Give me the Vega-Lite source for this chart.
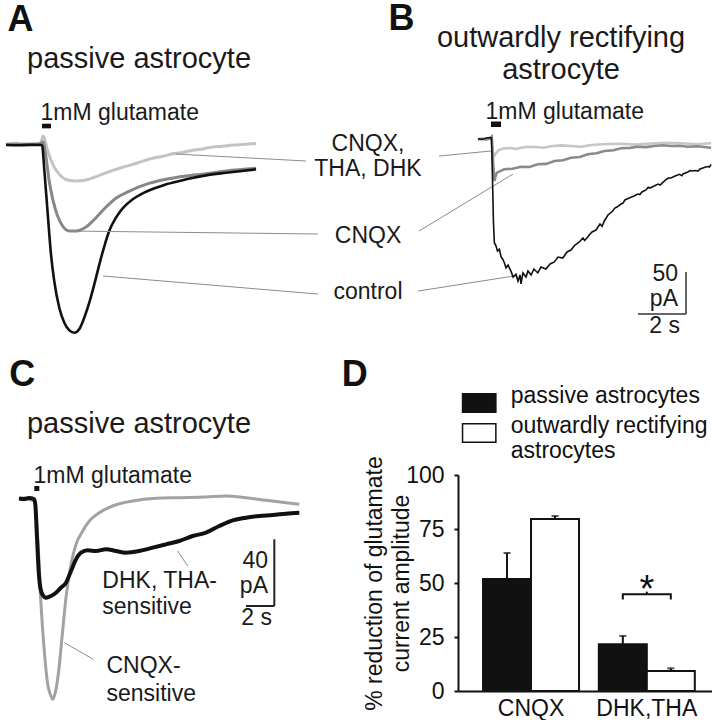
{
"$schema": "https://vega.github.io/schema/vega-lite/v6.json",
"background": "#ffffff",
"padding": 0,
"spacing": 0,
"bounds": "flush",
"resolve": {"scale": {"fill": "independent"}, "legend": {"fill": "independent"}},
"config": {"view": {"stroke": null}, "font": "Liberation Sans", "axis": {"labelFont": "Liberation Sans", "titleFont": "Liberation Sans"}, "legend": {"labelFont": "Liberation Sans"}},
"datasets": {
"trA": [
{"k":"light","t":-1.5,"p":0},{"k":"light","t":-1.17,"p":0.6},{"k":"light","t":-0.83,"p":-0.4},{"k":"light","t":-0.5,"p":0.4},{"k":"light","t":-0.17,"p":0.2},{"k":"light","t":-0.04,"p":2.4},{"k":"light","t":0.05,"p":9.5},{"k":"light","t":0.24,"p":-8.3},{"k":"light","t":0.45,"p":-24.2},{"k":"light","t":0.72,"p":-36.1},{"k":"light","t":1.07,"p":-42.9},{"k":"light","t":1.42,"p":-44.0},{"k":"light","t":1.83,"p":-42.9},{"k":"light","t":2.39,"p":-37.3},{"k":"light","t":2.95,"p":-31.3},{"k":"light","t":3.36,"p":-27.6},{"k":"light","t":3.78,"p":-24.2},{"k":"light","t":4.2,"p":-20.3},{"k":"light","t":4.61,"p":-17.0},{"k":"light","t":5.03,"p":-14.6},{"k":"light","t":5.45,"p":-11.5},{"k":"light","t":5.87,"p":-9.9},{"k":"light","t":6.28,"p":-7.5},{"k":"light","t":6.7,"p":-5.8},{"k":"light","t":7.11,"p":-3.6},{"k":"light","t":7.53,"p":-2.6},{"k":"light","t":7.95,"p":-1.2},{"k":"light","t":8.4,"p":-0.4},{"k":"light","t":8.92,"p":0.8},
{"k":"mid","t":-1.5,"p":-0.6},{"k":"mid","t":-1.0,"p":0},{"k":"mid","t":-0.5,"p":-0.6},{"k":"mid","t":-0.08,"p":0},{"k":"mid","t":0.04,"p":2.4},{"k":"mid","t":0.17,"p":-16.3},{"k":"mid","t":0.30,"p":-44.0},{"k":"mid","t":0.45,"p":-65.8},{"k":"mid","t":0.65,"p":-85.7},{"k":"mid","t":0.86,"p":-97.6},{"k":"mid","t":1.14,"p":-103.6},{"k":"mid","t":1.42,"p":-103.6},{"k":"mid","t":1.83,"p":-98.8},{"k":"mid","t":2.25,"p":-87.7},{"k":"mid","t":2.67,"p":-75.0},{"k":"mid","t":3.08,"p":-64.6},{"k":"mid","t":3.64,"p":-56.0},{"k":"mid","t":4.33,"p":-48.0},{"k":"mid","t":5.17,"p":-42.0},{"k":"mid","t":6.0,"p":-38.1},{"k":"mid","t":6.83,"p":-35.4},{"k":"mid","t":7.67,"p":-32.1},{"k":"mid","t":8.92,"p":-28.9},
{"k":"control","t":-1.5,"p":-1.2},{"k":"control","t":-1.0,"p":-1.5},{"k":"control","t":-0.5,"p":-1.0},{"k":"control","t":0.0,"p":-1.2},{"k":"control","t":0.10,"p":-32.1},{"k":"control","t":0.24,"p":-83.7},{"k":"control","t":0.375,"p":-131.3},{"k":"control","t":0.51,"p":-163.1},{"k":"control","t":0.72,"p":-194.9},{"k":"control","t":0.93,"p":-212.7},{"k":"control","t":1.14,"p":-221.8},{"k":"control","t":1.35,"p":-224.6},{"k":"control","t":1.55,"p":-220.6},{"k":"control","t":1.76,"p":-206.8},{"k":"control","t":1.97,"p":-188.9},{"k":"control","t":2.18,"p":-167.0},{"k":"control","t":2.39,"p":-143.2},{"k":"control","t":2.60,"p":-121.4},{"k":"control","t":2.80,"p":-103.6},{"k":"control","t":3.08,"p":-87.7},{"k":"control","t":3.36,"p":-76.5},{"k":"control","t":3.78,"p":-65.8},{"k":"control","t":4.33,"p":-56.8},{"k":"control","t":5.17,"p":-48.0},{"k":"control","t":6.0,"p":-42.0},{"k":"control","t":6.83,"p":-37.3},{"k":"control","t":7.67,"p":-34.2},{"k":"control","t":8.92,"p":-30.1}
],
"segA": [
{"t":5.583,"p":-11.9,"t2":11.0,"p2":-20.2},
{"t":16.542,"p":-14.3,"t2":18.708,"p2":-8.3},
{"t":1.292,"p":-103.6,"t2":11.5,"p2":-107.1},
{"t":15.708,"p":-103.6,"t2":19.625,"p2":-35.7},
{"t":2.542,"p":-157.1,"t2":11.5,"p2":-178.6},
{"t":15.667,"p":-175.0,"t2":19.667,"p2":-157.1}
],
"gluA": [{"t":0,"p":18.7,"t2":0.375,"p2":24.2}],
"txtA": [
{"txt":"A","kind":"letter","t":-1.4375,"p":135.1},
{"txt":"passive astrocyte","kind":"title","t":-0.625,"p":90.5},
{"txt":"1mM glutamate","kind":"left","t":-0.0625,"p":28.6},
{"txt":"CNQX,","kind":"center","t":13.583,"p":-8.3},
{"txt":"THA, DHK","kind":"center","t":13.583,"p":-38.1},
{"txt":"CNQX","kind":"center","t":13.583,"p":-117.9},
{"txt":"control","kind":"center","t":13.583,"p":-184.5}
],
"trB": [
{"k":"light","t":-0.54,"p":1.8},{"k":"light","t":-0.375,"p":2.6},{"k":"light","t":-0.21,"p":1.8},{"k":"light","t":-0.04,"p":3.0},{"k":"light","t":0.03,"p":5.1},{"k":"light","t":0.06,"p":-11.9},{"k":"light","t":0.125,"p":-17.9},{"k":"light","t":0.21,"p":-14.3},{"k":"light","t":0.33,"p":-10.7},{"k":"light","t":0.5,"p":-8.9},{"k":"light","t":0.83,"p":-8.3},{"k":"light","t":1.04,"p":-9.5},{"k":"light","t":1.25,"p":-8.0},{"k":"light","t":1.56,"p":-6.8},{"k":"light","t":1.875,"p":-7.1},{"k":"light","t":2.19,"p":-8.0},{"k":"light","t":2.5,"p":-6.3},{"k":"light","t":2.9,"p":-5.2},{"k":"light","t":3.33,"p":-6.0},{"k":"light","t":3.75,"p":-6.9},{"k":"light","t":4.17,"p":-4.8},{"k":"light","t":4.8,"p":-3.6},{"k":"light","t":5.42,"p":-3.2},{"k":"light","t":6.05,"p":-4.3},{"k":"light","t":6.67,"p":-3.0},{"k":"light","t":7.3,"p":-2.0},{"k":"light","t":7.92,"p":-2.7},{"k":"light","t":8.55,"p":-3.8},{"k":"light","t":9.17,"p":-2.7},
{"k":"mid","t":-0.54,"p":1.8},{"k":"mid","t":-0.375,"p":2.6},{"k":"mid","t":-0.21,"p":1.8},{"k":"mid","t":-0.04,"p":3.0},{"k":"mid","t":0.03,"p":5.1},{"k":"mid","t":0.083,"p":-23.8},{"k":"mid","t":0.146,"p":-47.6},{"k":"mid","t":0.19,"p":-41.7},{"k":"mid","t":0.25,"p":-37.7},{"k":"mid","t":0.55,"p":-33.7},{"k":"mid","t":0.9,"p":-33.0},{"k":"mid","t":1.25,"p":-30.6},{"k":"mid","t":1.6,"p":-30.9},{"k":"mid","t":1.95,"p":-27.7},{"k":"mid","t":2.3,"p":-27.2},{"k":"mid","t":2.64,"p":-23.8},{"k":"mid","t":3.0,"p":-22.9},{"k":"mid","t":3.33,"p":-19.9},{"k":"mid","t":3.7,"p":-19.0},{"k":"mid","t":4.03,"p":-15.8},{"k":"mid","t":4.4,"p":-14.6},{"k":"mid","t":4.72,"p":-11.9},{"k":"mid","t":5.1,"p":-10.9},{"k":"mid","t":5.42,"p":-8.7},{"k":"mid","t":5.8,"p":-8.2},{"k":"mid","t":6.11,"p":-6.8},{"k":"mid","t":6.45,"p":-7.3},{"k":"mid","t":6.8,"p":-6.0},{"k":"mid","t":7.15,"p":-5.0},{"k":"mid","t":7.5,"p":-6.0},{"k":"mid","t":7.85,"p":-5.6},{"k":"mid","t":8.2,"p":-6.8},{"k":"mid","t":8.6,"p":-6.3},{"k":"mid","t":9.17,"p":-8.0},
{"k":"control","t":-0.54,"p":3.0},{"k":"control","t":-0.375,"p":1.8},{"k":"control","t":-0.21,"p":3.6},{"k":"control","t":-0.04,"p":4.2},{"k":"control","t":0.02,"p":3.6},{"k":"control","t":0.06,"p":-41.7},{"k":"control","t":0.10,"p":-95.2},{"k":"control","t":0.14,"p":-121.1},{"k":"control","t":0.21,"p":-125},{"k":"control","t":0.27,"p":-131},{"k":"control","t":0.35,"p":-128.9},{"k":"control","t":0.42,"p":-138.1},{"k":"control","t":0.49,"p":-140.8},{"k":"control","t":0.56,"p":-145.2},{"k":"control","t":0.625,"p":-150.8},{"k":"control","t":0.71,"p":-147.6},{"k":"control","t":0.83,"p":-154.8},{"k":"control","t":0.92,"p":-161.9},{"k":"control","t":1.04,"p":-158.7},{"k":"control","t":1.125,"p":-166.7},{"k":"control","t":1.21,"p":-159.5},{"k":"control","t":1.25,"p":-170.2},{"k":"control","t":1.33,"p":-157.1},{"k":"control","t":1.46,"p":-161.9},{"k":"control","t":1.54,"p":-154.8},{"k":"control","t":1.67,"p":-159.5},{"k":"control","t":1.79,"p":-152.4},{"k":"control","t":1.95,"p":-157.1},{"k":"control","t":2.08,"p":-150},{"k":"control","t":2.29,"p":-152.4},{"k":"control","t":2.46,"p":-146.4},{"k":"control","t":2.64,"p":-144},{"k":"control","t":2.79,"p":-138.1},{"k":"control","t":2.99,"p":-139.3},{"k":"control","t":3.17,"p":-132.1},{"k":"control","t":3.33,"p":-129.8},{"k":"control","t":3.5,"p":-123.8},{"k":"control","t":3.68,"p":-120.2},{"k":"control","t":3.83,"p":-115.5},{"k":"control","t":3.9,"p":-118.5},{"k":"control","t":4.03,"p":-114.3},{"k":"control","t":4.12,"p":-110.9},{"k":"control","t":4.21,"p":-108.3},{"k":"control","t":4.375,"p":-106},{"k":"control","t":4.54,"p":-98.8},{"k":"control","t":4.63,"p":-101.6},{"k":"control","t":4.72,"p":-95.2},{"k":"control","t":4.875,"p":-88.1},{"k":"control","t":5.07,"p":-83.3},{"k":"control","t":5.16,"p":-79.9},{"k":"control","t":5.25,"p":-78.6},{"k":"control","t":5.42,"p":-75},{"k":"control","t":5.5,"p":-73.9},{"k":"control","t":5.58,"p":-70.2},{"k":"control","t":5.76,"p":-67.9},{"k":"control","t":5.96,"p":-65.5},{"k":"control","t":6.11,"p":-63.1},{"k":"control","t":6.2,"p":-63.8},{"k":"control","t":6.29,"p":-60.7},{"k":"control","t":6.46,"p":-58.3},{"k":"control","t":6.55,"p":-55.0},{"k":"control","t":6.625,"p":-56},{"k":"control","t":6.8,"p":-53.6},{"k":"control","t":6.96,"p":-51.2},{"k":"control","t":7.05,"p":-52.4},{"k":"control","t":7.15,"p":-49.6},{"k":"control","t":7.33,"p":-45.2},{"k":"control","t":7.4,"p":-44.0},{"k":"control","t":7.5,"p":-44},{"k":"control","t":7.67,"p":-41.7},{"k":"control","t":7.85,"p":-39.6},{"k":"control","t":7.95,"p":-41.2},{"k":"control","t":8.0,"p":-39.3},{"k":"control","t":8.2,"p":-36.9},{"k":"control","t":8.3,"p":-35.2},{"k":"control","t":8.375,"p":-35.7},{"k":"control","t":8.54,"p":-35.1},{"k":"control","t":8.62,"p":-35.9},{"k":"control","t":8.71,"p":-33.3},{"k":"control","t":8.89,"p":-31.5},{"k":"control","t":8.95,"p":-30.9},{"k":"control","t":9.04,"p":-30.4},{"k":"control","t":9.1,"p":-30.9},{"k":"control","t":9.17,"p":-28}
],
"gluB": [{"t":0,"p":16.7,"t2":0.417,"p2":23.2}],
"sbB": [{"t":8.125,"p":-155.95,"t2":8.125,"p2":-205.95},{"t":6.125,"p":-205.95,"t2":8.125,"p2":-205.95}],
"txtB": [
{"txt":"B","kind":"letter","t":-4.27,"p":132.7},
{"txt":"outwardly rectifying","kind":"title","t":2.917,"p":111.9},
{"txt":"astrocyte","kind":"title","t":2.917,"p":73.8},
{"txt":"1mM glutamate","kind":"left","t":-0.229,"p":26.2},
{"txt":"50","kind":"right","t":7.792,"p":-166.7},
{"txt":"pA","kind":"right","t":7.792,"p":-196.4},
{"txt":"2 s","kind":"right","t":7.875,"p":-228.6}
],
"trC": [
{"k":"gray","t":-1.082,"p":0},{"k":"gray","t":-0.729,"p":0.4},{"k":"gray","t":-0.376,"p":-0.3},{"k":"gray","t":-0.002,"p":-1.2},{"k":"gray","t":0.238,"p":-23.2},{"k":"gray","t":0.471,"p":-63.2},{"k":"gray","t":0.704,"p":-91.2},{"k":"gray","t":0.944,"p":-111.2},{"k":"gray","t":1.176,"p":-118.2},{"k":"gray","t":1.296,"p":-120.2},{"k":"gray","t":1.48,"p":-116.2},{"k":"gray","t":1.72,"p":-103.2},{"k":"gray","t":1.953,"p":-83.2},{"k":"gray","t":2.235,"p":-59.2},{"k":"gray","t":2.588,"p":-39.2},{"k":"gray","t":2.941,"p":-27.2},{"k":"gray","t":3.414,"p":-19.2},{"k":"gray","t":3.88,"p":-13.2},{"k":"gray","t":4.586,"p":-8.2},{"k":"gray","t":5.532,"p":-4.2},{"k":"gray","t":6.944,"p":-1.2},{"k":"gray","t":8.588,"p":0.4},{"k":"gray","t":10.233,"p":0.8},{"k":"gray","t":12.118,"p":1.2},{"k":"gray","t":13.529,"p":1.8},{"k":"gray","t":14.941,"p":0.8},{"k":"gray","t":16.353,"p":-0.8},{"k":"gray","t":17.765,"p":-2.2},{"k":"gray","t":18.704,"p":-3.2},
{"k":"black","t":-1.082,"p":0.3},{"k":"black","t":-0.729,"p":0},{"k":"black","t":-0.376,"p":0.6},{"k":"black","t":-0.024,"p":0},{"k":"black","t":0.068,"p":-3.2},{"k":"black","t":0.188,"p":-23.2},{"k":"black","t":0.308,"p":-43.2},{"k":"black","t":0.421,"p":-53.2},{"k":"black","t":0.591,"p":-57.6},{"k":"black","t":0.824,"p":-59.2},{"k":"black","t":1.176,"p":-58.2},{"k":"black","t":1.529,"p":-56.2},{"k":"black","t":1.882,"p":-53.2},{"k":"black","t":2.235,"p":-50.2},{"k":"black","t":2.588,"p":-43.2},{"k":"black","t":2.941,"p":-36.2},{"k":"black","t":3.294,"p":-32.2},{"k":"black","t":3.767,"p":-30.8},{"k":"black","t":4.353,"p":-31.2},{"k":"black","t":5.059,"p":-30.2},{"k":"black","t":5.765,"p":-31.2},{"k":"black","t":6.471,"p":-32.2},{"k":"black","t":7.409,"p":-31.2},{"k":"black","t":8.355,"p":-29.2},{"k":"black","t":9.294,"p":-27.2},{"k":"black","t":10.233,"p":-25.2},{"k":"black","t":11.179,"p":-22.2},{"k":"black","t":12.118,"p":-20.2},{"k":"black","t":13.056,"p":-16.2},{"k":"black","t":14.002,"p":-12.8},{"k":"black","t":14.941,"p":-11.2},{"k":"black","t":15.88,"p":-10.2},{"k":"black","t":16.826,"p":-9.6},{"k":"black","t":17.765,"p":-8.8},{"k":"black","t":18.704,"p":-8.2}
],
"segC": [{"t":10.12,"p":-31.2,"t2":10.826,"p2":-40.2},{"t":2.118,"p":-86.2,"t2":4.165,"p2":-96.2}],
"sbC": [{"t":16.94,"p":-24.2,"t2":16.94,"p2":-64.2},{"t":14.94,"p":-64.2,"t2":16.94,"p2":-64.2}],
"gluC": [{"t":0,"p":4.8,"t2":0.353,"p2":7.8}],
"txtC": [
{"txt":"C","kind":"letter","t":-1.767,"p":67.8},
{"txt":"D","kind":"letter","t":21.697,"p":67.8},
{"txt":"passive astrocyte","kind":"title","t":-0.518,"p":39.8},
{"txt":"1mM glutamate","kind":"left","t":-0.059,"p":9.8},
{"txt":"DHK, THA-","kind":"left","t":4.8,"p":-53.2},
{"txt":"sensitive","kind":"left","t":4.8,"p":-69.2},
{"txt":"CNQX-","kind":"left","t":5.094,"p":-104.2},
{"txt":"sensitive","kind":"left","t":5.094,"p":-121.2},
{"txt":"40","kind":"right","t":16.494,"p":-41.2},
{"txt":"pA","kind":"right","t":16.494,"p":-56.2},
{"txt":"2 s","kind":"right","t":16.776,"p":-75.6}
],
"bars": [
{"cat":"CNQX","grp":"passive astrocytes","value":51.9,"hi":63.9},
{"cat":"CNQX","grp":"outwardly rectifying astrocytes","value":79.6,"hi":81.0},
{"cat":"DHK,THA","grp":"passive astrocytes","value":21.6,"hi":25.5},
{"cat":"DHK,THA","grp":"outwardly rectifying astrocytes","value":9.3,"hi":10.5}
],
"bracket": [
{"cat":"DHK,THA","grp":"passive astrocytes","p":42.4,"o":1},
{"cat":"DHK,THA","grp":"passive astrocytes","p":44.8,"o":2},
{"cat":"DHK,THA","grp":"outwardly rectifying astrocytes","p":44.8,"o":3},
{"cat":"DHK,THA","grp":"outwardly rectifying astrocytes","p":42.4,"o":4}
],
"sig": [{"cat":"DHK,THA","p":44.8,"p2":46.0,"txt":"*","ps":41.3}]
},
"vconcat": [
{
"width": 712, "height": 360,
"resolve": {"scale": {"x": "independent", "y": "independent"}},
"layer": [
{
"encoding": {
"x": {"field": "t", "type": "quantitative", "scale": {"domain": [-1.5, 28.1667], "nice": false, "zero": false}, "axis": null},
"y": {"field": "p", "type": "quantitative", "scale": {"domain": [-258.3, 170.3], "nice": false, "zero": false}, "axis": null}
},
"layer": [
{"data": {"name": "trA"}, "transform": [{"filter": "datum.k == 'light'"}], "mark": {"type": "line", "color": "#c3c3c3", "strokeWidth": 3, "interpolate": "monotone"}, "encoding": {}},
{"data": {"name": "trA"}, "transform": [{"filter": "datum.k == 'mid'"}], "mark": {"type": "line", "color": "#878787", "strokeWidth": 3, "interpolate": "monotone"}, "encoding": {}},
{"data": {"name": "trA"}, "transform": [{"filter": "datum.k == 'control'"}], "mark": {"type": "line", "color": "#111111", "strokeWidth": 2.6, "interpolate": "monotone"}, "encoding": {}},
{"data": {"name": "segA"}, "mark": {"type": "rule", "color": "#8c8c8c", "strokeWidth": 1}, "encoding": {"x2": {"field": "t2"}, "y2": {"field": "p2"}}},
{"data": {"name": "gluA"}, "mark": {"type": "rect", "color": "#111111"}, "encoding": {"x2": {"field": "t2"}, "y2": {"field": "p2"}}},
{"data": {"name": "txtA"}, "transform": [{"filter": "datum.kind == 'letter'"}], "mark": {"type": "text", "font": "Liberation Sans", "fontSize": 36, "fontWeight": "bold", "align": "left", "baseline": "alphabetic", "color": "#111111"}, "encoding": {"text": {"field": "txt", "type": "nominal"}}},
{"data": {"name": "txtA"}, "transform": [{"filter": "datum.kind == 'title'"}], "mark": {"type": "text", "font": "Liberation Sans", "fontSize": 29, "align": "left", "baseline": "alphabetic", "color": "#1a1a1a"}, "encoding": {"text": {"field": "txt", "type": "nominal"}}},
{"data": {"name": "txtA"}, "transform": [{"filter": "datum.kind == 'left'"}], "mark": {"type": "text", "font": "Liberation Sans", "fontSize": 23, "align": "left", "baseline": "alphabetic", "color": "#1a1a1a"}, "encoding": {"text": {"field": "txt", "type": "nominal"}}},
{"data": {"name": "txtA"}, "transform": [{"filter": "datum.kind == 'center'"}], "mark": {"type": "text", "font": "Liberation Sans", "fontSize": 23, "align": "center", "baseline": "alphabetic", "color": "#1a1a1a"}, "encoding": {"text": {"field": "txt", "type": "nominal"}}}
]
},
{
"encoding": {
"x": {"field": "t", "type": "quantitative", "scale": {"domain": [-20.2083, 9.4583], "nice": false, "zero": false}, "axis": null},
"y": {"field": "p", "type": "quantitative", "scale": {"domain": [-261.9, 166.7], "nice": false, "zero": false}, "axis": null}
},
"layer": [
{"data": {"name": "trB"}, "transform": [{"filter": "datum.k == 'light'"}], "mark": {"type": "line", "color": "#c6c6c6", "strokeWidth": 2.6}, "encoding": {}},
{"data": {"name": "trB"}, "transform": [{"filter": "datum.k == 'mid'"}], "mark": {"type": "line", "color": "#8a8a8a", "strokeWidth": 2.6}, "encoding": {}},
{"data": {"name": "trB"}, "transform": [{"filter": "datum.k == 'control'"}], "mark": {"type": "line", "color": "#111111", "strokeWidth": 1.6}, "encoding": {}},
{"data": {"name": "sbB"}, "mark": {"type": "rule", "color": "#333333", "strokeWidth": 1.5}, "encoding": {"x2": {"field": "t2"}, "y2": {"field": "p2"}}},
{"data": {"name": "gluB"}, "mark": {"type": "rect", "color": "#111111"}, "encoding": {"x2": {"field": "t2"}, "y2": {"field": "p2"}}},
{"data": {"name": "txtB"}, "transform": [{"filter": "datum.kind == 'letter'"}], "mark": {"type": "text", "font": "Liberation Sans", "fontSize": 36, "fontWeight": "bold", "align": "left", "baseline": "alphabetic", "color": "#111111"}, "encoding": {"text": {"field": "txt", "type": "nominal"}}},
{"data": {"name": "txtB"}, "transform": [{"filter": "datum.kind == 'title'"}], "mark": {"type": "text", "font": "Liberation Sans", "fontSize": 29, "align": "center", "baseline": "alphabetic", "color": "#1a1a1a"}, "encoding": {"text": {"field": "txt", "type": "nominal"}}},
{"data": {"name": "txtB"}, "transform": [{"filter": "datum.kind == 'left'"}], "mark": {"type": "text", "font": "Liberation Sans", "fontSize": 23, "align": "left", "baseline": "alphabetic", "color": "#1a1a1a"}, "encoding": {"text": {"field": "txt", "type": "nominal"}}},
{"data": {"name": "txtB"}, "transform": [{"filter": "datum.kind == 'right'"}], "mark": {"type": "text", "font": "Liberation Sans", "fontSize": 23, "align": "right", "baseline": "alphabetic", "color": "#1a1a1a"}, "encoding": {"text": {"field": "txt", "type": "nominal"}}}
]
}
]
},
{
"spacing": 102,
"bounds": "flush",
"resolve": {"scale": {"fill": "independent"}, "legend": {"fill": "independent"}},
"hconcat": [
{
"width": 350, "height": 360,
"encoding": {
"x": {"field": "t", "type": "quantitative", "scale": {"domain": [-2.0, 22.706], "nice": false, "zero": false}, "axis": null},
"y": {"field": "p", "type": "quantitative", "scale": {"domain": [-133.2, 82.8], "nice": false, "zero": false}, "axis": null}
},
"layer": [
{"data": {"name": "trC"}, "transform": [{"filter": "datum.k == 'gray'"}], "mark": {"type": "line", "color": "#a2a2a2", "strokeWidth": 3, "interpolate": "monotone"}, "encoding": {}},
{"data": {"name": "trC"}, "transform": [{"filter": "datum.k == 'black'"}], "mark": {"type": "line", "color": "#111111", "strokeWidth": 4, "interpolate": "monotone"}, "encoding": {}},
{"data": {"name": "segC"}, "mark": {"type": "rule", "color": "#8c8c8c", "strokeWidth": 1}, "encoding": {"x2": {"field": "t2"}, "y2": {"field": "p2"}}},
{"data": {"name": "sbC"}, "mark": {"type": "rule", "color": "#222222", "strokeWidth": 2}, "encoding": {"x2": {"field": "t2"}, "y2": {"field": "p2"}}},
{"data": {"name": "gluC"}, "mark": {"type": "rect", "color": "#111111"}, "encoding": {"x2": {"field": "t2"}, "y2": {"field": "p2"}}},
{"data": {"name": "txtC"}, "transform": [{"filter": "datum.kind == 'letter'"}], "mark": {"type": "text", "font": "Liberation Sans", "fontSize": 36, "fontWeight": "bold", "align": "left", "baseline": "alphabetic", "color": "#111111"}, "encoding": {"text": {"field": "txt", "type": "nominal"}}},
{"data": {"name": "txtC"}, "transform": [{"filter": "datum.kind == 'title'"}], "mark": {"type": "text", "font": "Liberation Sans", "fontSize": 29, "align": "left", "baseline": "alphabetic", "color": "#1a1a1a"}, "encoding": {"text": {"field": "txt", "type": "nominal"}}},
{"data": {"name": "txtC"}, "transform": [{"filter": "datum.kind == 'left'"}], "mark": {"type": "text", "font": "Liberation Sans", "fontSize": 23, "align": "left", "baseline": "alphabetic", "color": "#1a1a1a"}, "encoding": {"text": {"field": "txt", "type": "nominal"}}},
{"data": {"name": "txtC"}, "transform": [{"filter": "datum.kind == 'right'"}], "mark": {"type": "text", "font": "Liberation Sans", "fontSize": 23, "align": "right", "baseline": "alphabetic", "color": "#1a1a1a"}, "encoding": {"text": {"field": "txt", "type": "nominal"}}}
]
},
{
"width": 256, "height": 330,
"layer": [
{"data": {"name": "bars"}, "mark": {"type": "bar", "stroke": "#111111", "strokeWidth": 2},
"encoding": {
"x": {"field": "cat", "type": "nominal", "title": null, "scale": {"paddingInner": 0.171, "paddingOuter": 0.191, "align": 0.566}, "axis": {"labelAngle": 0, "ticks": false, "tickSize": 0, "domainColor": "#111111", "domainWidth": 2, "labelFontSize": 23, "labelColor": "#111111", "labelPadding": 6}},
"xOffset": {"field": "grp", "type": "nominal", "scale": {"domain": ["passive astrocytes", "outwardly rectifying astrocytes"], "paddingInner": 0, "paddingOuter": 0}},
"y": {"field": "value", "type": "quantitative", "scale": {"domain": [0, 100], "range": [330, 114], "nice": false, "zero": true}, "axis": {"title": ["% reduction of glutamate", "current amplitude"], "titleFontSize": 23, "titleFontWeight": "normal", "titleColor": "#111111", "titleAngle": -90, "titleX": -77, "titleY": 222, "titleAlign": "center", "titleBaseline": "alphabetic", "titleLineHeight": 27, "values": [0, 25, 50, 75, 100], "tickSize": 4, "tickWidth": 2, "tickColor": "#111111", "domainColor": "#111111", "domainWidth": 2, "labelFontSize": 23, "labelColor": "#111111", "labelPadding": 10, "grid": false}},
"fill": {"field": "grp", "type": "nominal", "scale": {"domain": ["passive astrocytes", "outwardly rectifying astrocytes"], "range": ["#111111", "#ffffff"]},
"legend": {"orient": "none", "legendX": 3.7, "legendY": 24.5, "title": null, "direction": "vertical", "padding": 0, "symbolType": "M-1,-0.55H1V0.55H-1Z", "symbolSize": 1110, "symbolStrokeWidth": 1.5, "symbolOpacity": 1, "labelFontSize": 23, "labelColor": "#111111", "labelOffset": 14, "labelBaseline": "alphabetic", "labelLimit": 0, "rowPadding": -2.5,
"labelExpr": "datum.label == 'outwardly rectifying astrocytes' ? ['outwardly rectifying', 'astrocytes'] : datum.label",
"encode": {"symbols": {"stroke": {"value": "#9a9a9a"}}, "labels": {"dy": {"value": 8.5}}}}}
}},
{"data": {"name": "bars"}, "mark": {"type": "rule", "color": "#111111", "strokeWidth": 2},
"encoding": {
"x": {"field": "cat", "type": "nominal", "scale": {"paddingInner": 0.171, "paddingOuter": 0.191, "align": 0.566}},
"xOffset": {"field": "grp", "type": "nominal", "scale": {"domain": ["passive astrocytes", "outwardly rectifying astrocytes"], "paddingInner": 0, "paddingOuter": 0}},
"y": {"field": "value", "type": "quantitative", "scale": {"domain": [0, 100], "range": [330, 114], "nice": false, "zero": true}},
"y2": {"field": "hi"}
}},
{"data": {"name": "bars"}, "mark": {"type": "tick", "color": "#111111", "thickness": 2, "size": 7},
"encoding": {
"x": {"field": "cat", "type": "nominal", "scale": {"paddingInner": 0.171, "paddingOuter": 0.191, "align": 0.566}},
"xOffset": {"field": "grp", "type": "nominal", "scale": {"domain": ["passive astrocytes", "outwardly rectifying astrocytes"], "paddingInner": 0, "paddingOuter": 0}},
"y": {"field": "hi", "type": "quantitative", "scale": {"domain": [0, 100], "range": [330, 114], "nice": false, "zero": true}}
}},
{"data": {"name": "bracket"}, "mark": {"type": "line", "color": "#111111", "strokeWidth": 2},
"encoding": {
"x": {"field": "cat", "type": "nominal", "scale": {"paddingInner": 0.171, "paddingOuter": 0.191, "align": 0.566}},
"xOffset": {"field": "grp", "type": "nominal", "scale": {"domain": ["passive astrocytes", "outwardly rectifying astrocytes"], "paddingInner": 0, "paddingOuter": 0}},
"y": {"field": "p", "type": "quantitative", "scale": {"domain": [0, 100], "range": [330, 114], "nice": false, "zero": true}},
"order": {"field": "o", "type": "quantitative"}
}},
{"data": {"name": "sig"}, "mark": {"type": "rule", "color": "#111111", "strokeWidth": 2},
"encoding": {
"x": {"field": "cat", "type": "nominal", "scale": {"paddingInner": 0.171, "paddingOuter": 0.191, "align": 0.566}},
"y": {"field": "p", "type": "quantitative", "scale": {"domain": [0, 100], "range": [330, 114], "nice": false, "zero": true}},
"y2": {"field": "p2"}
}},
{"data": {"name": "sig"}, "mark": {"type": "text", "font": "Liberation Sans", "fontSize": 38, "align": "center", "baseline": "alphabetic", "color": "#111111"},
"encoding": {
"x": {"field": "cat", "type": "nominal", "scale": {"paddingInner": 0.171, "paddingOuter": 0.191, "align": 0.566}},
"y": {"field": "ps", "type": "quantitative", "scale": {"domain": [0, 100], "range": [330, 114], "nice": false, "zero": true}},
"text": {"field": "txt", "type": "nominal"}
}}
]
}
]
}
]
}
